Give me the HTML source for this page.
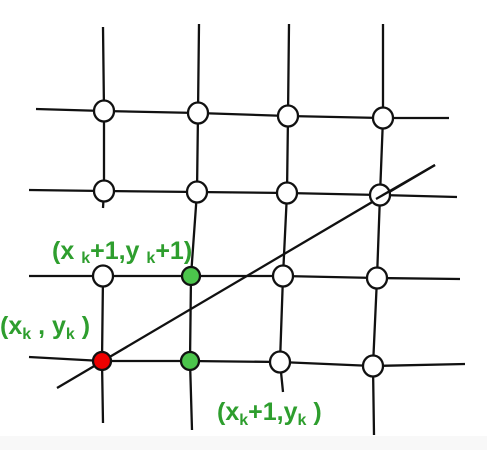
<!DOCTYPE html>
<html><head><meta charset="utf-8"><style>
body{margin:0;background:#fff;}
svg{display:block}
.l{stroke:#111;stroke-width:2.3;fill:none}
.t{font-family:"Liberation Sans",sans-serif;font-weight:bold;fill:#2e9e2e;font-size:25px}
.s{font-size:16px}
</style></head><body>
<svg width="487" height="450" viewBox="0 0 487 450">
<rect x="0" y="0" width="487" height="450" fill="#fff"/>
<rect x="0" y="436" width="487" height="14" fill="#f8f8f8"/>
<g>
<polyline class="l" points="103,27 104,111 104,191 103,208"/>
<polyline class="l" points="103,266 103,276 102,361 103,423"/>
<polyline class="l" points="199,24 198,113 197,192 191,276 190,361 192,430"/>
<polyline class="l" points="289,24 288,116 287,193 283,276 280,362 283,392"/>
<polyline class="l" points="383,24 383,118 380,195 377,278 373,366 374,435"/>
<polyline class="l" points="36,109 104,111 198,113 288,116 383,118 449,118"/>
<polyline class="l" points="29,190 104,191 197,192 287,193 380,195 457,197"/>
<polyline class="l" points="29,276 103,276 191,276 283,276 377,278 460,279"/>
<polyline class="l" points="29,357 102,361 190,361 280,362 373,366 465,364"/>
</g>
<line class="l" x1="57" y1="388" x2="435" y2="165"/>
<g stroke="#111" stroke-width="2.3" fill="#fff">
<ellipse cx="104" cy="111" rx="10" ry="10.5"/><ellipse cx="198" cy="113" rx="10" ry="10.5"/><ellipse cx="288" cy="116" rx="10" ry="10.5"/><ellipse cx="383" cy="118" rx="10" ry="10.5"/>
<ellipse cx="104" cy="191" rx="10" ry="10.5"/><ellipse cx="197" cy="192" rx="10" ry="10.5"/><ellipse cx="287" cy="193" rx="10" ry="10.5"/><ellipse cx="380" cy="195" rx="10" ry="10.5"/>
<ellipse cx="103" cy="276" rx="10" ry="10.5"/><ellipse cx="283" cy="276" rx="10" ry="10.5"/><ellipse cx="377" cy="278" rx="10" ry="10.5"/>
<ellipse cx="280" cy="362" rx="10" ry="10.5"/><ellipse cx="373" cy="366" rx="10" ry="10.5"/>
<ellipse cx="191" cy="276" rx="9" ry="9" fill="#4cc44c"/>
<ellipse cx="190" cy="361" rx="9" ry="9" fill="#4cc44c"/>
<ellipse cx="102" cy="361" rx="9" ry="9" fill="#ee0000"/>
</g>
<line class="l" x1="435" y1="165" x2="376" y2="199"/>
<text class="t" x="52" y="259">(x <tspan class="s" dy="4">k</tspan><tspan dy="-4">+1,y</tspan> <tspan class="s" dy="4">k</tspan><tspan dy="-4">+1)</tspan></text>
<text class="t" x="0" y="334">(x<tspan class="s" dy="5">k</tspan><tspan dy="-5"> , y</tspan><tspan class="s" dy="5">k</tspan><tspan dy="-5"> )</tspan></text>
<text class="t" x="217" y="420">(x<tspan class="s" dy="5">k</tspan><tspan dy="-5">+1,y</tspan><tspan class="s" dy="5">k</tspan><tspan dy="-5"> )</tspan></text>
</svg>
</body></html>
